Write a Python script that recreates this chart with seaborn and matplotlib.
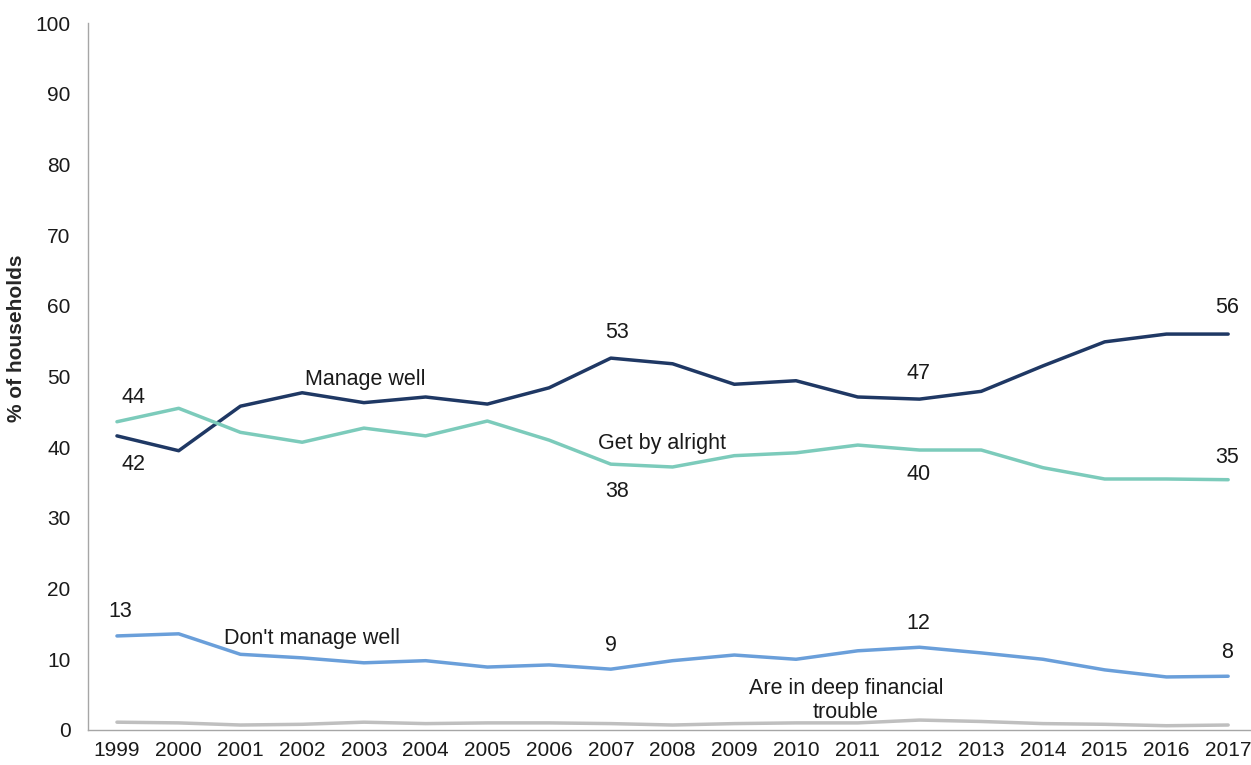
import numpy as np
import pandas as pd
import matplotlib
matplotlib.use("Agg")
import matplotlib.pyplot as plt
import seaborn as sns

years = list(range(1999, 2018))

manage_well = [41.6, 39.5, 45.8, 47.7, 46.3, 47.1, 46.1, 48.4, 52.6, 51.8,
               48.9, 49.4, 47.1, 46.8, 47.9, 51.5, 54.9, 56.0, 56.0]
get_by_alright = [43.6, 45.5, 42.1, 40.7, 42.7, 41.6, 43.7, 41.0, 37.6, 37.2,
                  38.8, 39.2, 40.3, 39.6, 39.6, 37.1, 35.5, 35.5, 35.4]
dont_manage_well = [13.3, 13.6, 10.7, 10.2, 9.5, 9.8, 8.9, 9.2, 8.6, 9.8,
                    10.6, 10.0, 11.2, 11.7, 10.9, 10.0, 8.5, 7.5, 7.6]
deep_trouble = [1.1, 1.0, 0.7, 0.8, 1.1, 0.9, 1.0, 1.0, 0.9, 0.7,
                0.9, 1.0, 1.0, 1.4, 1.2, 0.9, 0.8, 0.6, 0.7]

series_names = ["Manage well", "Get by alright", "Don't manage well",
                "Are in deep financial trouble"]
colors = ["#1F3864", "#7CCBBB", "#6A9FDA", "#BFBFBF"]

df = pd.DataFrame({
    "year": years * 4,
    "value": manage_well + get_by_alright + dont_manage_well + deep_trouble,
    "series": sum([[n] * len(years) for n in series_names], []),
})

sns.set_theme(style="white")
plt.rcParams["font.family"] = ["Liberation Sans", "DejaVu Sans"]

fig = plt.figure(figsize=(12.51, 7.65), dpi=100)
ax = fig.add_axes([0.0703, 0.0458, 0.9297, 0.9241])

sns.lineplot(data=df, x="year", y="value", hue="series", hue_order=series_names,
             palette=colors, linewidth=2.5, legend=False, ax=ax)

ax.set_xlim(1998.53, 2017.37)
ax.set_ylim(0, 100)
ax.set_xticks(years)
ax.set_xticklabels([str(y) for y in years], fontsize=15, color="#1a1a1a")
ax.set_yticks(range(0, 101, 10))
ax.set_yticklabels([str(v) for v in range(0, 101, 10)], fontsize=15, color="#1a1a1a")
ax.tick_params(axis="x", length=0, pad=8)
ax.tick_params(axis="y", length=0, pad=12.5)
ax.set_xlabel("")
ax.set_ylabel("% of households", fontsize=15, fontweight="bold")
ax.yaxis.set_label_coords(-0.053, 0.554)

for side in ["top", "right"]:
    ax.spines[side].set_visible(False)
for side in ["left", "bottom"]:
    ax.spines[side].set_color("#A6A6A6")
    ax.spines[side].set_linewidth(1.0)

fs = 15.5
tc = "#1a1a1a"

def idx(y):
    return years.index(y)

# value labels
value_labels = [
    (1999, get_by_alright, 1999.26, 47.0),
    (1999, manage_well, 1999.26, 37.6),
    (2007, manage_well, 2007.1, 56.2),
    (2007, get_by_alright, 2007.1, 33.8),
    (2012, manage_well, 2011.98, 50.4),
    (2012, get_by_alright, 2011.98, 36.2),
    (2017, manage_well, 2016.98, 59.7),
    (2017, get_by_alright, 2016.98, 38.6),
    (1999, dont_manage_well, 1999.05, 16.8),
    (2007, dont_manage_well, 2007.0, 11.9),
    (2012, dont_manage_well, 2011.98, 15.1),
    (2017, dont_manage_well, 2016.98, 11.0),
]
for yr, vals, tx, ty in value_labels:
    ax.text(tx, ty, f"{vals[idx(yr)]:.0f}", ha="center", va="center",
            fontsize=fs, color=tc)

# series names
ax.text(2003.02, 49.6, "Manage well", ha="center", va="center", fontsize=fs, color=tc)
ax.text(2007.83, 40.5, "Get by alright", ha="center", va="center", fontsize=fs, color=tc)
ax.text(2002.16, 13.0, "Don't manage well", ha="center", va="center", fontsize=fs, color=tc)
ax.text(2010.81, 4.2, "Are in deep financial\ntrouble", ha="center", va="center",
        fontsize=fs, color=tc, linespacing=1.2)

fig.savefig("out.png", dpi=100)
